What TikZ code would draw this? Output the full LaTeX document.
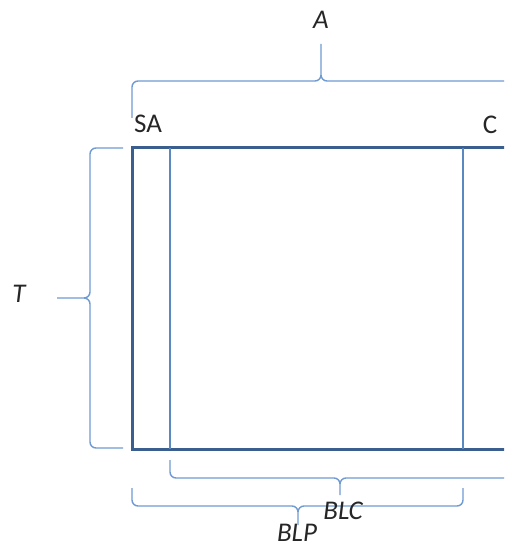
\documentclass[tikz,border=0pt]{standalone}
\usepackage{fontspec}
\setmainfont{Carlito}
\usepackage{tikz}

\definecolor{framecol}{HTML}{3A5F8F}
\definecolor{linecol}{HTML}{5A88C0}
\definecolor{bracecol}{HTML}{6F9BD2}
\definecolor{textcol}{HTML}{262626}

\begin{document}
\begin{tikzpicture}[x=1pt,y=-1pt,
    bracket/.style={draw=bracecol,line width=1.4pt,rounded corners=6pt},
    label/.style={text=textcol,inner sep=0pt,font=\fontsize{27}{30}\selectfont}]
\useasboundingbox (0,0) rectangle (504,548);
\clip (0,0) rectangle (504,548);

% outer frame and the two inner walls
\draw[framecol,line width=3pt] (132,148) rectangle (510,449);
\draw[linecol,line width=1.3pt] (170,148) -- (170,449);
\draw[linecol,line width=1.3pt] (463,148) -- (463,449);

% braces
\draw[bracket] (132,118) |- (321,81) -- (321,44) (510,118) |- (321,81) -- (321,44);
\draw[bracket] (123,148) -| (90,298) -- (57,298) (123,448) -| (90,298) -- (57,298);
\draw[bracket] (170,460) |- (340,478) -- (340,495) (510,460) |- (340,478) -- (340,495);
\draw[bracket] (132,488) |- (298,506) -- (298,525) (463,488) |- (298,506) -- (298,525);

% labels
\node[label] (a) at (321,20) {\itshape A};
\node[label] (sa) at (148,124) {SA};
\node[label] (c) at (490,125) {C};
\node[label] (t) at (19,294) {\itshape T};
\node[label] (blc) at (343,511) {\itshape BLC};
\node[label] (blp) at (297,533) {\itshape BLP};
\end{tikzpicture}
\end{document}
